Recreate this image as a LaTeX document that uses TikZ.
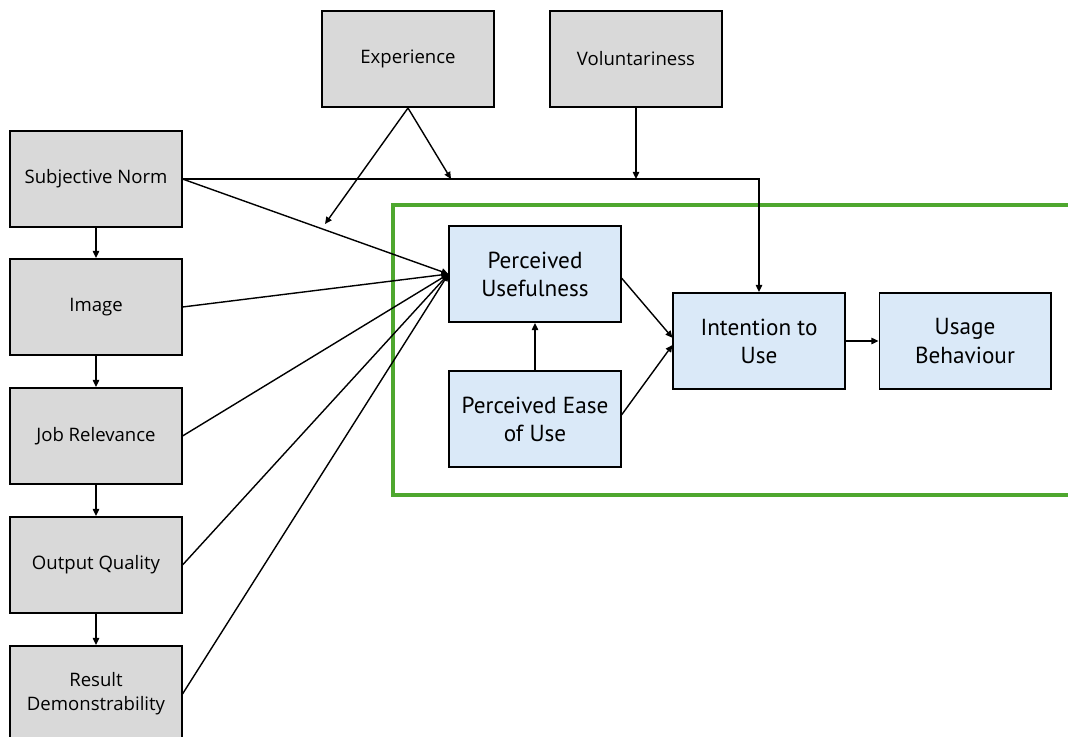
\documentclass[tikz,border=0pt]{standalone}
\usepackage{fontspec}
\setmainfont{Open Sans}
\newfontfamily\tamfont{PT Sans}
\usepackage{tikz}
\usetikzlibrary{arrows.meta}
\definecolor{boxgrey}{HTML}{D9D9D9}
\definecolor{boxblue}{HTML}{DAE9F8}
\definecolor{tamgreen}{HTML}{4EA72E}
\tikzset{
    extvar/.style={draw=black, line width=1.4pt, fill=boxgrey, minimum width=4.275cm, minimum height=2.4cm,
        align=center, font=\fontsize{13.2}{17}\selectfont, inner sep=2pt},
    tamvar/.style={draw=black, line width=1.4pt, fill=boxblue, minimum width=4.275cm, minimum height=2.4cm,
        align=center, font=\tamfont\fontsize{16.5}{20}\selectfont, inner sep=2pt},
    lien/.style={line width=1pt, -{Triangle[length=5pt,width=4.5pt]}}
}

\begin{document}
\begin{tikzpicture}[x=0.025cm, y=-0.025cm]
\clip (0,0) rectangle (1068,737);
%\draw[thin, opacity=0.5] (0,0) grid[step=50] (1068,737);

%%% cadre TAM
\draw[tamgreen, line width=2.2pt] (1080,205) -- (393,205) -- (393,495) -- (1080,495);

%%% variables

% externes
\node[extvar] (sn) at (96,179) {Subjective Norm};
\node[extvar] (img) at (96,307) {Image};
\node[extvar] (job) at (96,436) {Job Relevance};
\node[extvar] (out) at (96,565) {Output Quality};
\node[extvar] (res) at (96,694) {Result\\Demonstrability};

% moderateurs
\node[extvar] (exp) at (408,59) {Experience};
\node[extvar] (vol) at (636,59) {Voluntariness};

% TAM
\node[tamvar] (pu) at (535,274) {Perceived\\Usefulness};
\node[tamvar] (peou) at (535,419) {Perceived Ease\\of Use};
\node[tamvar] (int) at (759,341) {Intention to\\Use};
\node[tamvar] (ub) at (965,341) {Usage\\Behaviour};

%%% liens

\coordinate (expsn) at (325,224);
\coordinate (expint) at (451,179);

\draw[lien] (sn) -- (img);
\draw[lien] (img) -- (job);
\draw[lien] (job) -- (out);
\draw[lien] (out) -- (res);

\draw[lien] (sn.east) -- (pu.west);
\draw[lien] (img.east) -- (pu.west);
\draw[lien] (job.east) -- (pu.west);
\draw[lien] (out.east) -- (pu.west);
\draw[lien] (res.east) -- (pu.west);

\draw[lien] (sn.east) -| (int.north);
\draw[lien] (exp.south) -- (expsn);
\draw[lien] (exp.south) -- (expint);
\draw[lien] (vol.south) -- (vol.south |- sn.east);

\draw[lien] (peou) -- (pu);
\draw[lien] ([yshift=-0.1cm]pu.east) -- ([yshift=0.08cm]int.west);
\draw[lien] ([yshift=0.1cm]peou.east) -- ([yshift=-0.1cm]int.west);
\draw[lien] (int) -- (ub);
\end{tikzpicture}
\end{document}
